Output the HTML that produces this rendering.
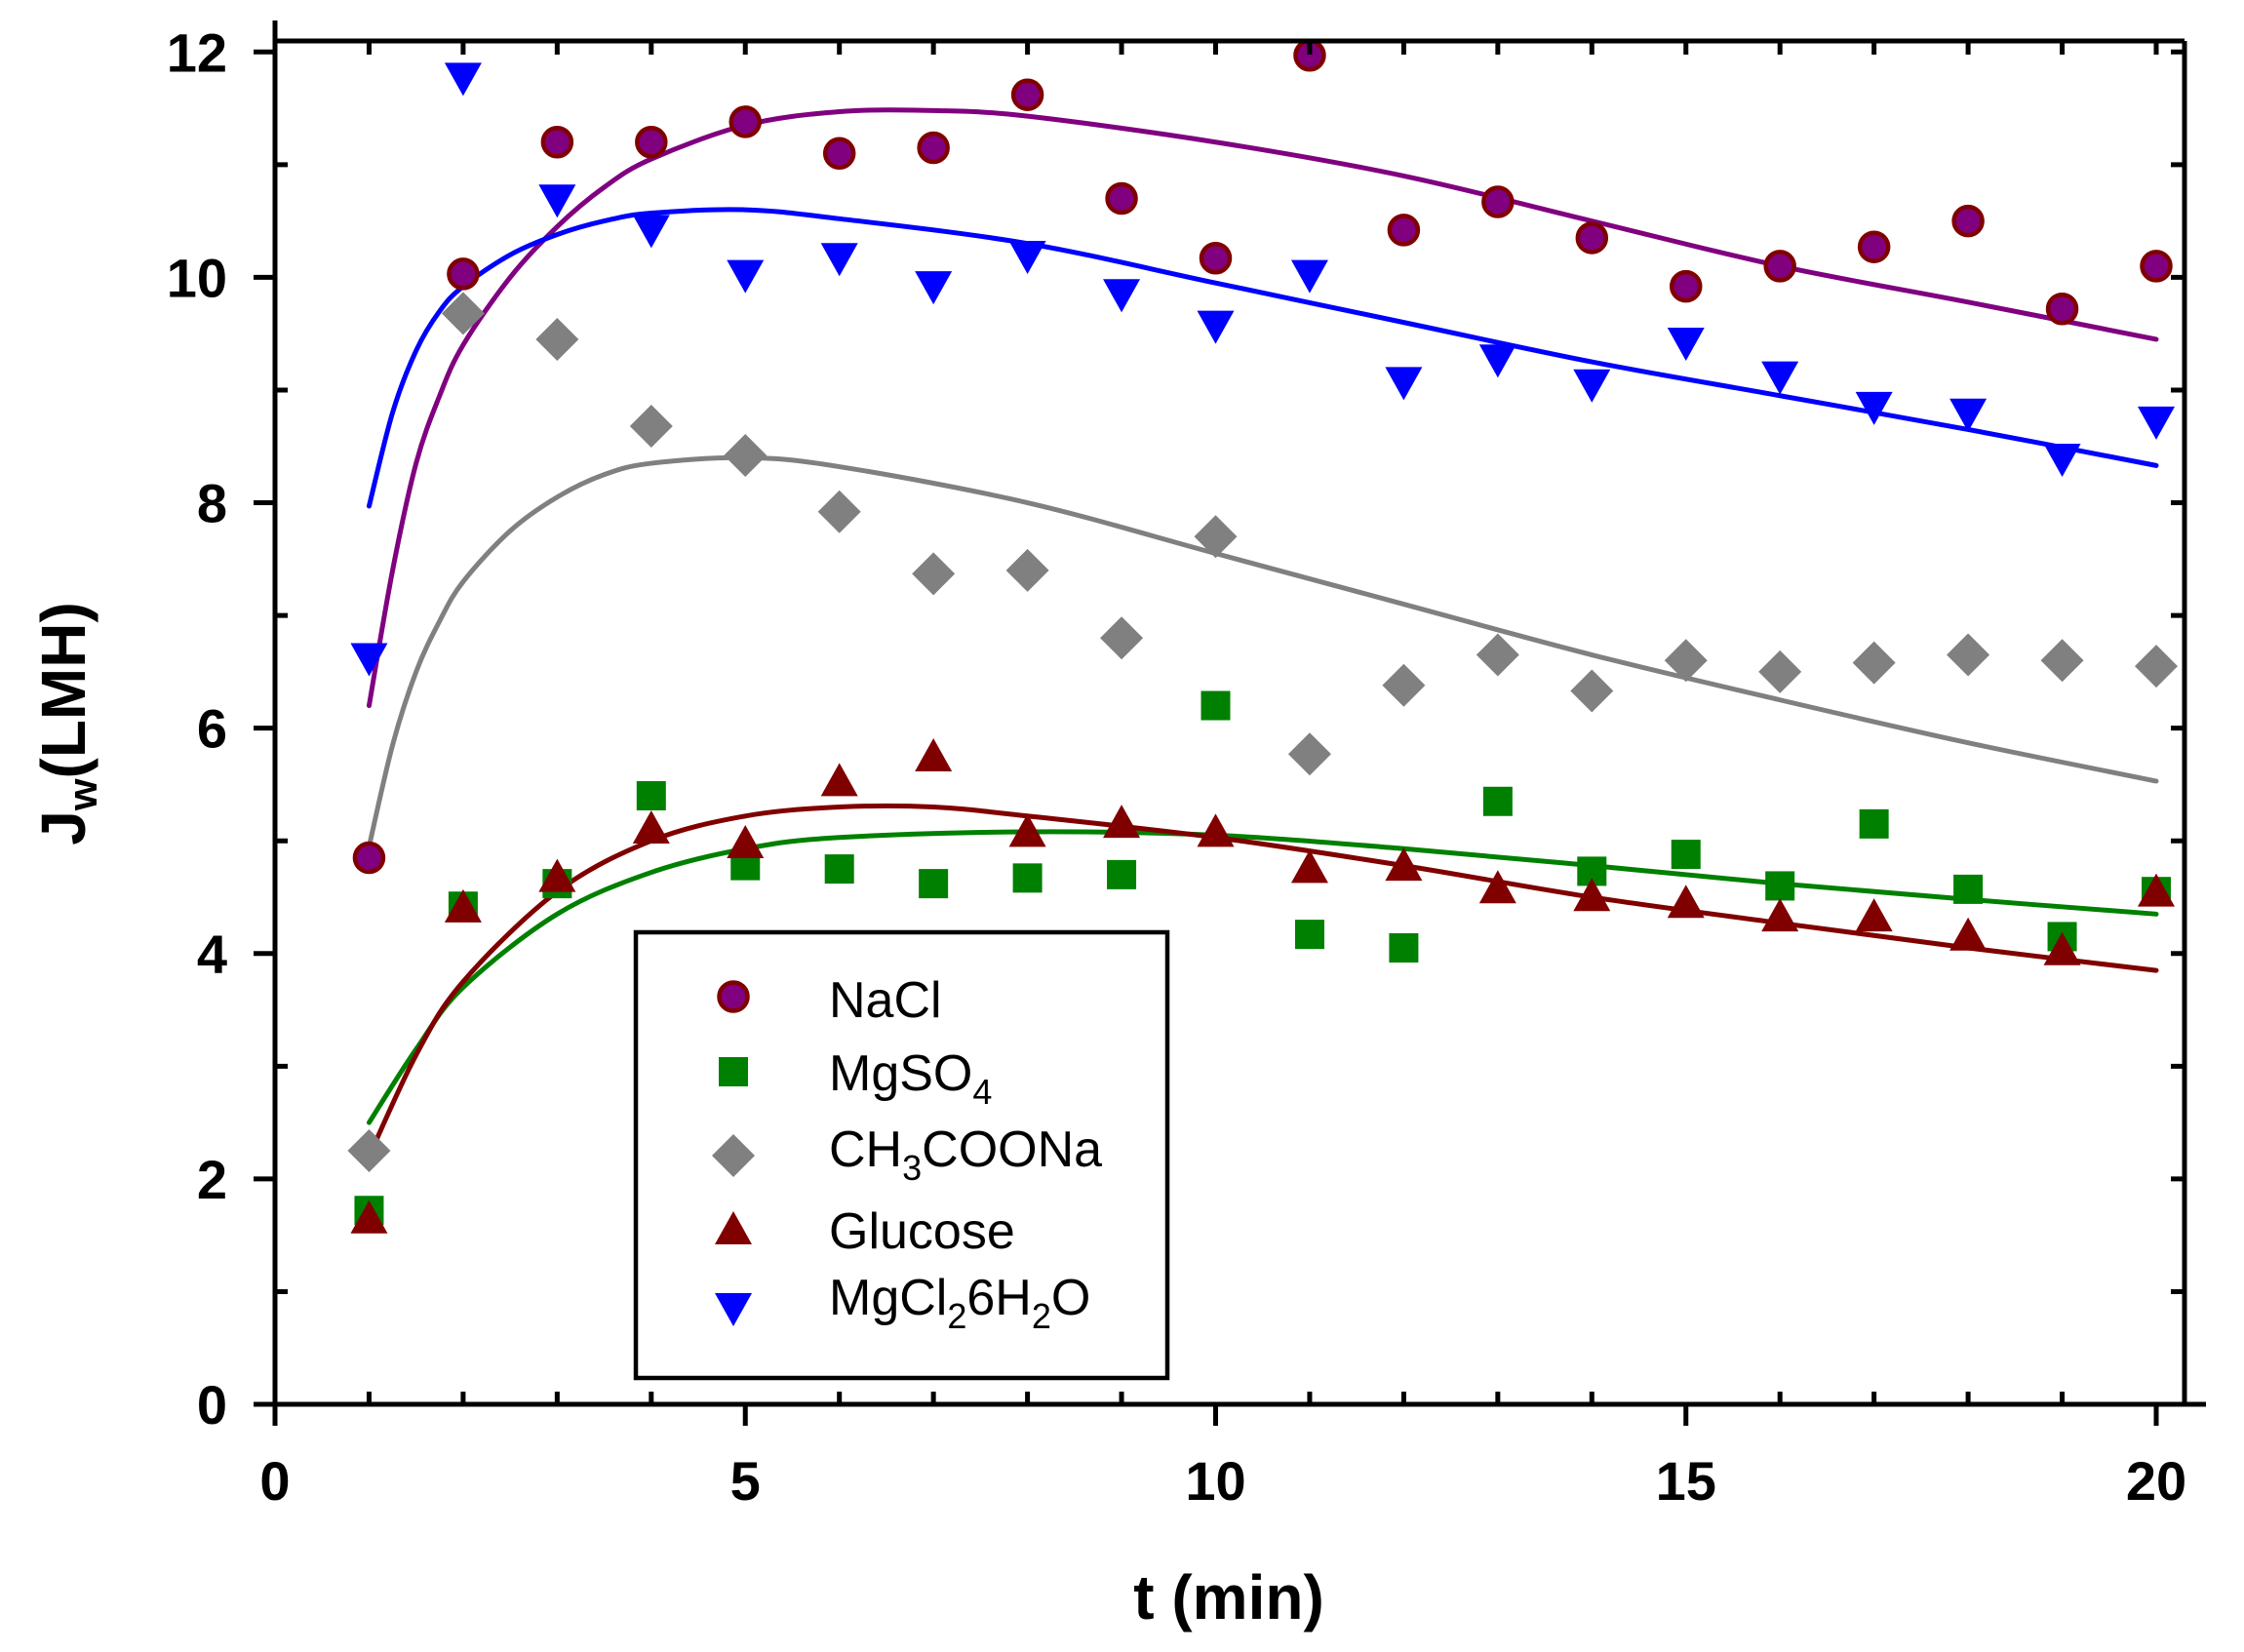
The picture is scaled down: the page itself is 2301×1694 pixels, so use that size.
<!DOCTYPE html>
<html><head><meta charset="utf-8"><style>html,body{margin:0;padding:0;background:#fff}svg{display:block}</style></head>
<body>
<svg id="s" width="2301" height="1694" viewBox="0 0 2301 1694" xmlns="http://www.w3.org/2000/svg" font-family="Liberation Sans, Arial, sans-serif">
<rect width="2301" height="1694" fill="#fff"/>
<g id="curves" fill="none" stroke-width="5" stroke-linecap="round"></g>
<g id="marks"></g>
<g id="axes" stroke="#000" stroke-width="5" fill="none"></g>
<g id="labels" font-weight="bold" font-size="56" fill="#000"></g>
<text x="1260" y="1660" font-size="64" font-weight="bold" text-anchor="middle">t (min)</text>
<text transform="translate(87,742) rotate(-90)" font-size="64" font-weight="bold" text-anchor="middle">J<tspan font-size="42" dy="12">w</tspan><tspan dy="-12">(LMH)</tspan></text>
<rect x="652" y="956" width="545" height="457" fill="#fff" stroke="#000" stroke-width="4.5"/>
<g id="leg"></g>
<g font-size="52" fill="#000">
<text x="850" y="1043">NaCl</text>
<text x="850" y="1118">MgSO<tspan font-size="36" dy="14">4</tspan></text>
<text x="850" y="1196">CH<tspan font-size="36" dy="14">3</tspan><tspan dy="-14">COONa</tspan></text>
<text x="850" y="1280">Glucose</text>
<text x="850" y="1348">MgCl<tspan font-size="36" dy="14">2</tspan><tspan dy="-14">6H</tspan><tspan font-size="36" dy="14">2</tspan><tspan dy="-14">O</tspan></text>
</g>
</svg>
<script>
var NS="http://www.w3.org/2000/svg";
function X(t){return 282+t*96.45}
function Y(v){return 1440-v*115.56}
function el(tag,attrs,parent){var e=document.createElementNS(NS,tag);for(var k in attrs)e.setAttribute(k,attrs[k]);document.getElementById(parent).appendChild(e);return e}
var L=282,R=2240,T=42,B=1440;
el('path',{d:'M'+L+' 21V1462M260 '+B+'H2262M'+L+' '+T+'H'+R+'M'+R+' '+T+'V'+B},'axes');
var d='';
for(var i=0;i<=20;i++){var x=X(i);
 if(i%5==0){d+='M'+x+' '+B+'v22';}else{d+='M'+x+' '+B+'v-13';}
 d+='M'+x+' '+T+'v14';}
for(var j=0;j<=12;j++){var y=Y(j);
 if(j%2==0){d+='M'+L+' '+y+'h-22';}else{d+='M'+L+' '+y+'h13';}
 d+='M'+R+' '+y+'h-14';}
el('path',{d:d},'axes');
for(var i=0;i<=20;i+=5){var t=el('text',{x:X(i),y:1538,'text-anchor':'middle'},'labels');t.textContent=i;}
for(var j=0;j<=12;j+=2){var t=el('text',{x:233,y:Y(j)+20,'text-anchor':'end'},'labels');t.textContent=j;}
function spline(pts,col){
 var p=pts.map(function(a){return [X(a[0]),Y(a[1])]});
 var s='M'+p[0][0]+' '+p[0][1];
 for(var i=0;i<p.length-1;i++){
  var p0=p[i-1]||p[i],p1=p[i],p2=p[i+1],p3=p[i+2]||p[i+1];
  var c1=[p1[0]+(p2[0]-p0[0])/6,p1[1]+(p2[1]-p0[1])/6];
  var c2=[p2[0]-(p3[0]-p1[0])/6,p2[1]-(p3[1]-p1[1])/6];
  s+='C'+c1+' '+c2+' '+p2;}
 el('path',{d:s,stroke:col},'curves');
}
spline([[1,6.2],[1.25,7.4],[1.5,8.35],[1.75,8.95],[2,9.4],[2.5,10.0],[3,10.45],[3.5,10.8],[4,11.05],[5,11.35],[6,11.47],[7,11.48],[8,11.43],[10,11.2],[12,10.9],[14,10.5],[16,10.1],[18,9.78],[20,9.45]],'#800080');
spline([[1,7.97],[1.25,8.8],[1.5,9.35],[1.75,9.7],[2,9.92],[2.5,10.2],[3,10.38],[3.5,10.5],[4,10.57],[5,10.6],[6,10.52],[8,10.3],[10,9.95],[12,9.6],[14,9.25],[16,8.95],[18,8.65],[20,8.33]],'#0000FF');
spline([[1,4.95],[1.25,5.85],[1.5,6.5],[1.75,6.95],[2,7.3],[2.5,7.75],[3,8.05],[3.5,8.25],[4,8.35],[5,8.4],[6,8.32],[8,8.0],[10,7.55],[12,7.1],[14,6.65],[16,6.25],[18,5.87],[20,5.53]],'#808080');
spline([[1,2.5],[1.5,3.15],[2,3.7],[3,4.35],[4,4.72],[5,4.93],[6,5.03],[8,5.08],[10,5.05],[12,4.93],[14,4.78],[16,4.62],[18,4.48],[20,4.35]],'#008000');
spline([[1,2.2],[1.5,3.1],[2,3.75],[3,4.55],[4,5.0],[5,5.22],[6,5.3],[7,5.3],[8,5.22],[10,5.03],[12,4.78],[14,4.5],[16,4.27],[18,4.05],[20,3.85]],'#800000');
function circ(x,y,g){el('circle',{cx:x,cy:y,r:14.5,fill:'#800080',stroke:'#800000','stroke-width':4.5},g)}
function sq(x,y,g){el('rect',{x:x-15,y:y-15,width:30,height:30,fill:'#008000'},g)}
function dia(x,y,g){el('path',{d:'M'+x+' '+(y-22)+'l22 22l-22 22l-22-22z',fill:'#808080'},g)}
function tup(x,y,g){el('path',{d:'M'+x+' '+(y-22)+'l19 34h-38z',fill:'#800000'},g)}
function tdn(x,y,g){el('path',{d:'M'+x+' '+(y+22)+'l19-34h-38z',fill:'#0000FF'},g)}
var D={
nacl:[4.85,10.03,11.2,11.2,11.38,11.1,11.15,11.62,10.7,10.17,11.97,10.42,10.67,10.35,9.92,10.1,10.27,10.5,9.72,10.1],
mgso:[1.72,4.42,4.62,5.4,4.78,4.75,4.62,4.67,4.7,6.2,4.17,4.05,5.35,4.73,4.88,4.6,5.15,4.57,4.15,4.55],
ch:[2.25,9.68,9.45,8.68,8.42,7.92,7.37,7.4,6.8,7.7,5.77,6.38,6.65,6.33,6.6,6.5,6.58,6.65,6.6,6.55],
glu:[1.62,4.38,4.65,5.08,4.95,5.5,5.72,5.05,5.13,5.05,4.73,4.75,4.55,4.48,4.42,4.3,4.3,4.13,4.0,4.52],
mgcl:[6.65,11.8,10.72,10.45,10.05,10.2,9.95,10.22,9.88,9.6,10.05,9.1,9.3,9.08,9.45,9.15,8.88,8.82,8.42,8.75]};
var order=[['ch',dia],['mgso',sq],['glu',tup],['mgcl',tdn],['nacl',circ]];
order.forEach(function(o){D[o[0]].forEach(function(v,i){o[1](X(i+1),Y(v),'marks')})});
circ(752,1022,'leg');sq(752,1099,'leg');dia(752,1185,'leg');tup(752,1264,'leg');tdn(752,1338,'leg');
</script>
</body></html>
